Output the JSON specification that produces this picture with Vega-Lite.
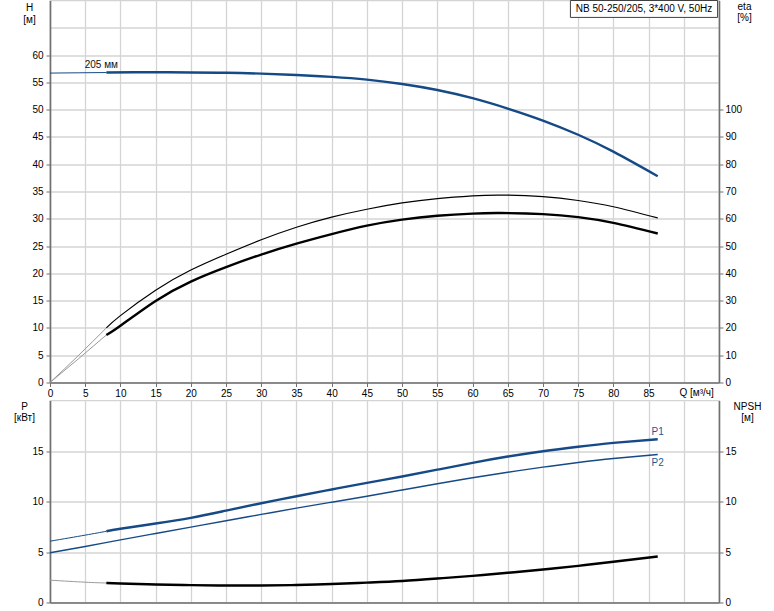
{
  "$schema": "https://vega.github.io/schema/vega-lite/v6.json",
  "padding": {"left": 12, "top": -1.5, "right": 5, "bottom": 0},
  "spacing": 18,
  "bounds": "flush",
  "config": {
    "view": {"stroke": "#d4d4d4", "strokeWidth": 1.3},
    "font": "Liberation Sans",
    "axis": {
      "labelFont": "Liberation Sans", "labelFontSize": 10, "labelColor": "#000",
      "titleFont": "Liberation Sans", "titleFontSize": 10, "titleFontWeight": "normal", "titleColor": "#000",
      "domainColor": "#707070", "domainWidth": 1.6, "tickColor": "#707070", "tickWidth": 1, "tickSize": 4,
      "gridColor": "#d4d4d4", "gridWidth": 1.3, "gridOpacity": 1, "labelPadding": 3, "tickCount": 40,
      "labelOverlap": false, "format": "d"
    },
    "line": {"interpolate": "natural"}
  },
  "datasets": {
    "H": [
      {"Q": 0, "v": 56.7}, {"Q": 4, "v": 56.75}, {"Q": 8, "v": 56.8}, {"Q": 12, "v": 56.85}, {"Q": 16, "v": 56.85},
      {"Q": 20, "v": 56.8}, {"Q": 25, "v": 56.75}, {"Q": 30, "v": 56.6}, {"Q": 35, "v": 56.35}, {"Q": 40, "v": 56.0},
      {"Q": 45, "v": 55.5}, {"Q": 50, "v": 54.7}, {"Q": 55, "v": 53.6}, {"Q": 60, "v": 52.1}, {"Q": 65, "v": 50.2},
      {"Q": 70, "v": 48.0}, {"Q": 75, "v": 45.4}, {"Q": 80, "v": 42.3}, {"Q": 86.3, "v": 37.8}
    ],
    "eta1": [
      {"Q": 0, "v": 0}, {"Q": 4, "v": 9.8}, {"Q": 8, "v": 20.0}, {"Q": 10, "v": 24.5}, {"Q": 15, "v": 33.8},
      {"Q": 20, "v": 41.2}, {"Q": 25, "v": 47.0}, {"Q": 30, "v": 52.3}, {"Q": 35, "v": 56.9}, {"Q": 40, "v": 60.6},
      {"Q": 45, "v": 63.5}, {"Q": 50, "v": 65.8}, {"Q": 55, "v": 67.4}, {"Q": 60, "v": 68.4}, {"Q": 64, "v": 68.7},
      {"Q": 70, "v": 68.1}, {"Q": 75, "v": 66.7}, {"Q": 80, "v": 64.4}, {"Q": 86.3, "v": 60.3}
    ],
    "eta2": [
      {"Q": 0, "v": 0}, {"Q": 4, "v": 8.6}, {"Q": 8, "v": 17.4}, {"Q": 10, "v": 20.8}, {"Q": 15, "v": 29.9},
      {"Q": 20, "v": 37.0}, {"Q": 25, "v": 42.3}, {"Q": 30, "v": 46.9}, {"Q": 35, "v": 50.9}, {"Q": 40, "v": 54.4},
      {"Q": 45, "v": 57.5}, {"Q": 50, "v": 59.7}, {"Q": 55, "v": 61.1}, {"Q": 60, "v": 61.9}, {"Q": 64, "v": 62.1},
      {"Q": 70, "v": 61.7}, {"Q": 75, "v": 60.6}, {"Q": 80, "v": 58.5}, {"Q": 86.3, "v": 54.6}
    ],
    "P1": [
      {"Q": 0, "v": 6.07}, {"Q": 5, "v": 6.67}, {"Q": 8, "v": 7.05}, {"Q": 10, "v": 7.3}, {"Q": 15, "v": 7.82},
      {"Q": 20, "v": 8.38}, {"Q": 25, "v": 9.1}, {"Q": 30, "v": 9.83}, {"Q": 35, "v": 10.52}, {"Q": 40, "v": 11.19},
      {"Q": 45, "v": 11.85}, {"Q": 50, "v": 12.48}, {"Q": 55, "v": 13.15}, {"Q": 60, "v": 13.83}, {"Q": 65, "v": 14.45},
      {"Q": 70, "v": 14.98}, {"Q": 75, "v": 15.42}, {"Q": 80, "v": 15.8}, {"Q": 86.3, "v": 16.17}
    ],
    "P2": [
      {"Q": 0, "v": 4.92}, {"Q": 5, "v": 5.54}, {"Q": 10, "v": 6.2}, {"Q": 15, "v": 6.83}, {"Q": 20, "v": 7.46},
      {"Q": 25, "v": 8.1}, {"Q": 30, "v": 8.72}, {"Q": 35, "v": 9.34}, {"Q": 40, "v": 9.93}, {"Q": 45, "v": 10.52},
      {"Q": 50, "v": 11.14}, {"Q": 55, "v": 11.76}, {"Q": 60, "v": 12.35}, {"Q": 65, "v": 12.9}, {"Q": 70, "v": 13.4},
      {"Q": 75, "v": 13.86}, {"Q": 80, "v": 14.26}, {"Q": 86.3, "v": 14.65}
    ],
    "NPSH": [
      {"Q": 0, "v": 2.21}, {"Q": 5, "v": 2.01}, {"Q": 8, "v": 1.93}, {"Q": 10, "v": 1.88}, {"Q": 15, "v": 1.78},
      {"Q": 20, "v": 1.72}, {"Q": 25, "v": 1.68}, {"Q": 30, "v": 1.68}, {"Q": 35, "v": 1.73}, {"Q": 40, "v": 1.83},
      {"Q": 45, "v": 1.97}, {"Q": 50, "v": 2.13}, {"Q": 55, "v": 2.37}, {"Q": 60, "v": 2.64}, {"Q": 65, "v": 2.94},
      {"Q": 70, "v": 3.27}, {"Q": 75, "v": 3.63}, {"Q": 80, "v": 4.03}, {"Q": 86.3, "v": 4.55}
    ]
  },
  "vconcat": [
    {
      "width": 669,
      "height": 382,
      "layer": [
        {
          "layer": [
            {
              "data": {"name": "H"},
              "transform": [{"filter": "datum.Q <= 8"}],
              "mark": {"type": "line", "color": "#154a86", "strokeWidth": 1},
              "encoding": {
                "x": {
                  "field": "Q", "type": "quantitative",
                  "scale": {"domain": [0, 95], "nice": false, "zero": false},
                  "axis": {
                    "values": [0, 5, 10, 15, 20, 25, 30, 35, 40, 45, 50, 55, 60, 65, 70, 75, 80, 85, 90],
                    "tickCount": 40, "format": "d",
                    "labelExpr": "datum.value <= 85 ? datum.label : ''",
                    "tickOpacity": {"condition": {"test": "datum.value > 85", "value": 0}, "value": 1},
                    "labelFlush": false, "labelPadding": 2, "grid": true,
                    "title": "Q [м³/ч]", "titleX": 629, "titleY": 10, "titleAlign": "left", "titleBaseline": "middle"
                  }
                },
                "y": {
                  "field": "v", "type": "quantitative",
                  "scale": {"domain": [0, 70], "nice": false},
                  "axis": {
                    "orient": "left",
                    "values": [0, 5, 10, 15, 20, 25, 30, 35, 40, 45, 50, 55, 60, 65],
                    "tickCount": 40, "format": "d",
                    "labelExpr": "datum.value <= 60 ? datum.label : ''",
                    "tickOpacity": {"condition": {"test": "datum.value > 60", "value": 0}, "value": 1},
                    "grid": true,
                    "title": ["H", "[м]"], "titleAngle": 0, "titleX": -21, "titleY": 9.5,
                    "titleAlign": "center", "titleBaseline": "alphabetic", "titleLineHeight": 12
                  }
                }
              }
            },
            {
              "data": {"name": "H"},
              "transform": [{"filter": "datum.Q >= 8"}],
              "mark": {"type": "line", "color": "#154a86", "strokeWidth": 2.4},
              "encoding": {"x": {"field": "Q", "type": "quantitative"}, "y": {"field": "v", "type": "quantitative"}}
            },
            {
              "data": {"name": "H"},
              "transform": [{"filter": "datum.Q == 8"}],
              "mark": {"type": "text", "text": "205 мм", "fontSize": 10, "color": "#111", "dx": -5, "dy": -8},
              "encoding": {"x": {"field": "Q", "type": "quantitative"}, "y": {"field": "v", "type": "quantitative"}}
            },
            {
              "data": {"values": [{}]},
              "mark": {"type": "rect", "fill": "#ffffff", "stroke": "#404040", "strokeWidth": 1},
              "encoding": {
                "x": {"datum": 73.9, "type": "quantitative"}, "x2": {"datum": 94.8},
                "y": {"datum": 66.9, "type": "quantitative"}, "y2": {"datum": 70}
              }
            },
            {
              "data": {"values": [{}]},
              "mark": {"type": "text", "text": "NB 50-250/205, 3*400 V, 50Hz", "fontSize": 10, "color": "#000", "align": "center", "baseline": "middle"},
              "encoding": {
                "x": {"datum": 84.35, "type": "quantitative"},
                "y": {"datum": 68.4, "type": "quantitative"}
              }
            }
          ]
        },
        {
          "layer": [
            {
              "data": {"name": "eta1"},
              "transform": [{"filter": "datum.Q <= 8"}],
              "mark": {"type": "line", "color": "#9a9a9a", "strokeWidth": 1},
              "encoding": {
                "x": {"field": "Q", "type": "quantitative"},
                "y": {
                  "field": "v", "type": "quantitative",
                  "scale": {"domain": [0, 140], "nice": false},
                  "axis": {
                    "orient": "right",
                    "values": [0, 10, 20, 30, 40, 50, 60, 70, 80, 90, 100],
                    "tickCount": 40, "format": "d",
                    "grid": false, "labelPadding": 2,
                    "title": ["eta", "[%]"], "titleAngle": 0, "titleX": 25, "titleY": 9,
                    "titleAlign": "center", "titleBaseline": "alphabetic", "titleLineHeight": 11
                  }
                }
              }
            },
            {
              "data": {"name": "eta2"},
              "transform": [{"filter": "datum.Q <= 8"}],
              "mark": {"type": "line", "color": "#9a9a9a", "strokeWidth": 1},
              "encoding": {"x": {"field": "Q", "type": "quantitative"}, "y": {"field": "v", "type": "quantitative"}}
            },
            {
              "data": {"name": "eta1"},
              "transform": [{"filter": "datum.Q >= 8"}],
              "mark": {"type": "line", "color": "#000000", "strokeWidth": 1.2},
              "encoding": {"x": {"field": "Q", "type": "quantitative"}, "y": {"field": "v", "type": "quantitative"}}
            },
            {
              "data": {"name": "eta2"},
              "transform": [{"filter": "datum.Q >= 8"}],
              "mark": {"type": "line", "color": "#000000", "strokeWidth": 2.4},
              "encoding": {"x": {"field": "Q", "type": "quantitative"}, "y": {"field": "v", "type": "quantitative"}}
            }
          ]
        }
      ],
      "resolve": {"scale": {"y": "independent"}}
    },
    {
      "width": 669,
      "height": 202,
      "layer": [
        {
          "layer": [
            {
              "data": {"name": "P1"},
              "transform": [{"filter": "datum.Q <= 8"}],
              "mark": {"type": "line", "color": "#154a86", "strokeWidth": 1},
              "encoding": {
                "x": {
                  "field": "Q", "type": "quantitative",
                  "scale": {"domain": [0, 95], "nice": false, "zero": false},
                  "axis": {
                    "values": [0, 5, 10, 15, 20, 25, 30, 35, 40, 45, 50, 55, 60, 65, 70, 75, 80, 85, 90],
                    "tickCount": 40,
                    "labels": false, "ticks": false, "grid": true, "title": null
                  }
                },
                "y": {
                  "field": "v", "type": "quantitative",
                  "scale": {"domain": [0, 20], "nice": false},
                  "axis": {
                    "orient": "left",
                    "values": [0, 5, 10, 15],
                    "tickCount": 40, "format": "d",
                    "grid": true,
                    "title": ["P", "[кВт]"], "titleAngle": 0, "titleX": -26, "titleY": 8.5,
                    "titleAlign": "center", "titleBaseline": "alphabetic", "titleLineHeight": 11.5
                  }
                }
              }
            },
            {
              "data": {"name": "P1"},
              "transform": [{"filter": "datum.Q >= 8"}],
              "mark": {"type": "line", "color": "#154a86", "strokeWidth": 2.4},
              "encoding": {"x": {"field": "Q", "type": "quantitative"}, "y": {"field": "v", "type": "quantitative"}}
            },
            {
              "data": {"name": "P2"},
              "mark": {"type": "line", "color": "#154a86", "strokeWidth": 1.4},
              "encoding": {"x": {"field": "Q", "type": "quantitative"}, "y": {"field": "v", "type": "quantitative"}}
            },
            {
              "data": {"name": "P1"},
              "transform": [{"filter": "datum.Q == 86.3"}],
              "mark": {"type": "text", "text": "P1", "fontSize": 10, "color": "#1a5a9c", "dy": -7},
              "encoding": {"x": {"field": "Q", "type": "quantitative"}, "y": {"field": "v", "type": "quantitative"}}
            },
            {
              "data": {"name": "P2"},
              "transform": [{"filter": "datum.Q == 86.3"}],
              "mark": {"type": "text", "text": "P2", "fontSize": 10, "color": "#1a5a9c", "dy": 8},
              "encoding": {"x": {"field": "Q", "type": "quantitative"}, "y": {"field": "v", "type": "quantitative"}}
            }
          ]
        },
        {
          "layer": [
            {
              "data": {"name": "NPSH"},
              "transform": [{"filter": "datum.Q <= 8"}],
              "mark": {"type": "line", "color": "#9a9a9a", "strokeWidth": 1},
              "encoding": {
                "x": {"field": "Q", "type": "quantitative"},
                "y": {
                  "field": "v", "type": "quantitative",
                  "scale": {"domain": [0, 20], "nice": false},
                  "axis": {
                    "orient": "right",
                    "values": [0, 5, 10, 15],
                    "tickCount": 40, "format": "d",
                    "grid": false, "labelPadding": 2,
                    "title": ["NPSH", "[м]"], "titleAngle": 0, "titleX": 28, "titleY": 8.5,
                    "titleAlign": "center", "titleBaseline": "alphabetic", "titleLineHeight": 11.5
                  }
                }
              }
            },
            {
              "data": {"name": "NPSH"},
              "transform": [{"filter": "datum.Q >= 8"}],
              "mark": {"type": "line", "color": "#000000", "strokeWidth": 2.4},
              "encoding": {"x": {"field": "Q", "type": "quantitative"}, "y": {"field": "v", "type": "quantitative"}}
            }
          ]
        }
      ],
      "resolve": {"scale": {"y": "independent"}}
    }
  ]
}
